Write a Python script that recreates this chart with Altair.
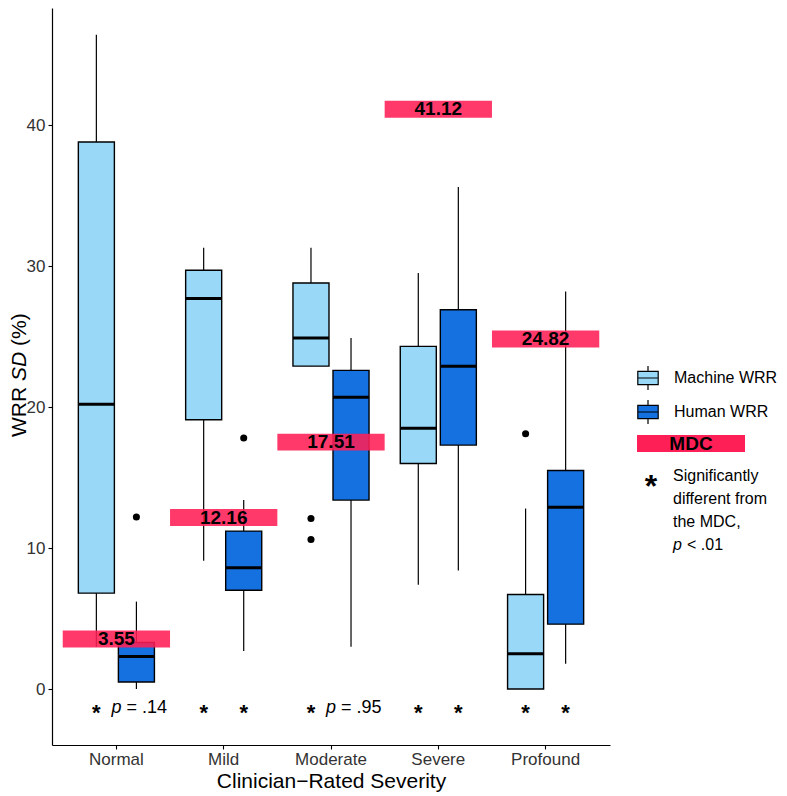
import altair as alt
import pandas as pd

# ---------------- data ----------------
categories = ["Normal", "Mild", "Moderate", "Severe", "Profound"]
groups = ["Machine WRR", "Human WRR"]

machine_min = [3.0, 9.1, 22.9, 7.4, 0.0]
machine_q1 = [6.8, 19.1, 22.9, 16.0, 0.0]
machine_med = [20.2, 27.7, 24.9, 18.5, 2.5]
machine_q3 = [38.8, 29.7, 28.8, 24.3, 6.7]
machine_max = [46.4, 31.3, 31.3, 29.5, 12.8]

human_min = [0.0, 2.7, 3.0, 8.4, 1.8]
human_q1 = [0.5, 7.0, 13.4, 17.3, 4.6]
human_med = [2.3, 8.6, 20.7, 22.9, 12.9]
human_q3 = [3.3, 11.2, 22.6, 26.9, 15.5]
human_max = [6.2, 13.4, 24.9, 35.6, 28.2]

outlier_category = ["Normal", "Mild", "Moderate", "Moderate", "Profound"]
outlier_group = ["Human WRR", "Human WRR", "Machine WRR", "Machine WRR", "Machine WRR"]
outlier_value = [12.2, 17.8, 12.1, 10.6, 18.1]

mdc_values = [3.55, 12.16, 17.51, 41.12, 24.82]
mdc_labels = ["3.55", "12.16", "17.51", "41.12", "24.82"]

machine_note = ["*", "*", "*", "*", "*"]
human_note = ["p = .14", "*", "p = .95", "*", "*"]

note_lines = ["Significantly", "different from", "the MDC,"]
note_last = ["p", "< .01"]
y_ticks = [0, 10, 20, 30, 40]

# ---------------- styling ----------------
FONT = "Liberation Sans"
LIGHT = "#9AD8F8"
DARK = "#1570E0"
RED = "#FF1F57"

rows = []
for i, c in enumerate(categories):
    rows.append(dict(category=c, group=groups[0], lo=machine_min[i], q1=machine_q1[i],
                     med=machine_med[i], q3=machine_q3[i], hi=machine_max[i]))
    rows.append(dict(category=c, group=groups[1], lo=human_min[i], q1=human_q1[i],
                     med=human_med[i], q3=human_q3[i], hi=human_max[i]))
box_df = pd.DataFrame(rows)

out_df = pd.DataFrame({"category": outlier_category, "group": outlier_group, "value": outlier_value})
mdc_df = pd.DataFrame({"category": categories, "mdc": mdc_values, "label": mdc_labels})

note_rows = []
for i, c in enumerate(categories):
    note_rows.append(dict(category=c, group=groups[0], note=machine_note[i]))
    note_rows.append(dict(category=c, group=groups[1], note=human_note[i]))
notes_df = pd.DataFrame(note_rows)
star_df = notes_df[notes_df["note"] == "*"].copy()
p_df = notes_df[notes_df["note"] != "*"].copy()
p_df["rest"] = p_df["note"].str.replace("p ", "", n=1, regex=False)

one = pd.DataFrame({"k": [0]})

x_scale = alt.Scale(domain=categories, paddingInner=0, paddingOuter=0.1)
xo_scale = alt.Scale(domain=groups, paddingInner=0.1, paddingOuter=0.39)
y_scale = alt.Scale(domain=[-3.97, 48.3], nice=False, zero=False)

x_axis = alt.Axis(title="Clinician\u2212Rated Severity", labelAngle=0, labelFontSize=17,
                  labelColor="#333333", labelFont=FONT, titleFont=FONT, titleFontSize=21,
                  titleFontWeight="normal", titleColor="black", titlePadding=3,
                  tickSize=4, labelPadding=2, domainColor="black", domainWidth=1.2,
                  tickColor="black", tickWidth=1.1)
y_axis = alt.Axis(title=None, values=y_ticks, labelFontSize=17, labelColor="#333333",
                  labelFont=FONT, tickSize=4, labelPadding=3, domainColor="black",
                  domainWidth=1.2, tickColor="black", tickWidth=1.1)

X = alt.X("category:N", scale=x_scale, sort=categories, axis=x_axis)
XO = alt.XOffset("group:N", scale=xo_scale, sort=groups)

legend_symbol = "M-0.85,-0.55H0.85V0.55H-0.85Z M-0.85,0H0.85 M0,-0.55V-1 M0,0.55V1"

whisker = alt.Chart(box_df).mark_rule(color="black", strokeWidth=1.2).encode(
    x=X, xOffset=XO,
    y=alt.Y("lo:Q", scale=y_scale, axis=y_axis), y2="hi:Q")

box = alt.Chart(box_df).mark_bar(stroke="black", strokeWidth=1.4, opacity=1).encode(
    x=X, xOffset=XO,
    y=alt.Y("q1:Q", scale=y_scale), y2="q3:Q",
    color=alt.Color("group:N", sort=groups,
                    scale=alt.Scale(domain=groups, range=[LIGHT, DARK]),
                    legend=alt.Legend(title=None, orient="none", legendX=583, legendY=357,
                                      symbolType=legend_symbol, symbolSize=576,
                                      symbolStrokeColor="black", symbolStrokeWidth=1.2,
                                      symbolOpacity=1, labelFontSize=16, labelFont=FONT,
                                      labelColor="black", labelOffset=13, rowPadding=4,
                                      padding=0)))

median = alt.Chart(box_df).mark_tick(color="black", thickness=3, size=36, opacity=1).encode(
    x=X, xOffset=XO, y=alt.Y("med:Q", scale=y_scale))

outliers = alt.Chart(out_df).mark_circle(color="black", size=50, opacity=1).encode(
    x=X, xOffset=XO, y=alt.Y("value:Q", scale=y_scale))

mdc_rect = alt.Chart(mdc_df).transform_calculate(
    lo="datum.mdc - 0.6", hi="datum.mdc + 0.6"
).mark_rect(color=RED, opacity=0.88).encode(
    x=X, y=alt.Y("lo:Q", scale=y_scale), y2="hi:Q")

mdc_text = alt.Chart(mdc_df).mark_text(font=FONT, fontSize=19, fontWeight="bold",
                                       color="black", baseline="middle").encode(
    x=X, y=alt.Y("mdc:Q", scale=y_scale), text="label:N")

stars = alt.Chart(star_df).mark_text(text="*", font=FONT, fontSize=22, fontWeight="bold",
                                     color="black", baseline="middle", dy=5).encode(
    x=X, xOffset=XO, y=alt.datum(-1.35))

p_italic = alt.Chart(p_df).mark_text(text="p", font=FONT, fontSize=18, fontStyle="italic",
                                     color="black", baseline="middle", align="left", dx=-25).encode(
    x=X, xOffset=XO, y=alt.datum(-1.35))

p_rest = alt.Chart(p_df).mark_text(font=FONT, fontSize=18, color="black",
                                   baseline="middle", align="left", dx=-10).encode(
    x=X, xOffset=XO, y=alt.datum(-1.35), text="rest:N")

# y-axis title with italic SD
yt1 = alt.Chart(one).mark_text(text="WRR", font=FONT, fontSize=21, angle=270, align="left",
                               baseline="middle", color="black").encode(
    x=alt.value(-32), y=alt.value(429))
yt2 = alt.Chart(one).mark_text(text="SD", font=FONT, fontSize=21, fontStyle="italic", angle=270,
                               align="left", baseline="middle", color="black").encode(
    x=alt.value(-32), y=alt.value(373))
yt3 = alt.Chart(one).mark_text(text="(%)", font=FONT, fontSize=21, angle=270, align="left",
                               baseline="middle", color="black").encode(
    x=alt.value(-32), y=alt.value(338))

# custom legend entries: MDC bar and asterisk note
leg_rect = alt.Chart(one).mark_rect(color=RED, opacity=1).encode(
    x=alt.value(585), x2=alt.value(693), y=alt.value(427), y2=alt.value(444))
leg_mdc = alt.Chart(one).mark_text(text="MDC", font=FONT, fontSize=19, fontWeight="bold",
                                   color="black", baseline="middle").encode(
    x=alt.value(639), y=alt.value(436))
leg_star = alt.Chart(one).mark_text(text="*", font=FONT, fontSize=32, fontWeight="bold",
                                    color="black", baseline="middle").encode(
    x=alt.value(599), y=alt.value(479))
leg_lines = alt.Chart(one).mark_text(text=note_lines, font=FONT, fontSize=16, color="black",
                                     align="left", baseline="middle", lineHeight=23).encode(
    x=alt.value(621), y=alt.value(468))
leg_p = alt.Chart(one).mark_text(text=note_last[0], font=FONT, fontSize=16, fontStyle="italic",
                                 color="black", align="left", baseline="middle").encode(
    x=alt.value(621), y=alt.value(537))
leg_p2 = alt.Chart(one).mark_text(text=note_last[1], font=FONT, fontSize=16, color="black",
                                  align="left", baseline="middle").encode(
    x=alt.value(635), y=alt.value(537))

chart = alt.layer(
    whisker, box, median, outliers, mdc_rect, mdc_text, stars, p_italic, p_rest,
    yt1, yt2, yt3, leg_rect, leg_mdc, leg_star, leg_lines, leg_p, leg_p2
).properties(
    width=558, height=737,
    autosize=alt.AutoSizeParams(type="none"),
    padding={"left": 44, "top": 0, "right": 169, "bottom": 51},
).configure_view(stroke=None).configure_axis(grid=False)

chart.save("out.html", embed_options={"renderer": "svg", "actions": False})
